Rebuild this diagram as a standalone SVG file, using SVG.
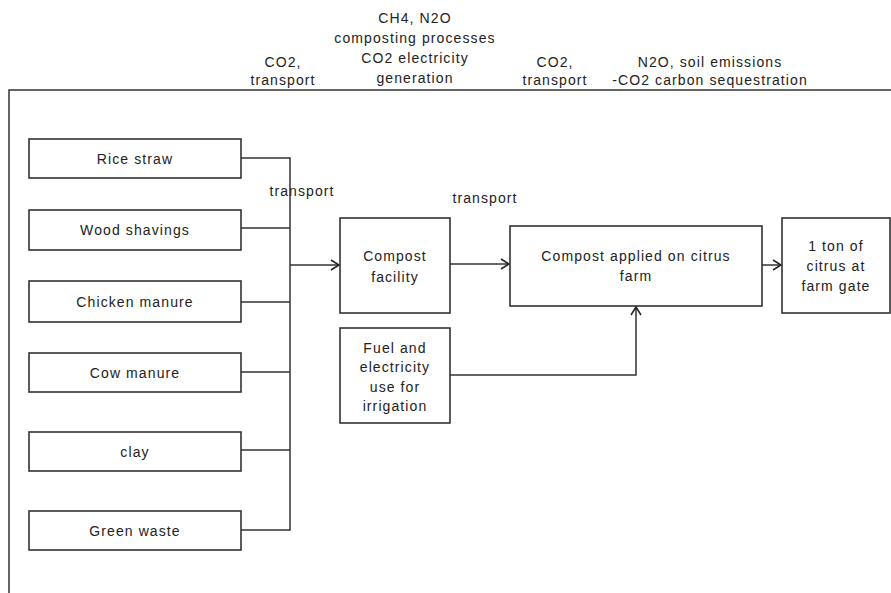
<svg xmlns="http://www.w3.org/2000/svg" width="891" height="593" viewBox="0 0 891 593">
<style>
text{font-family:"Liberation Sans",Arial,sans-serif;font-size:14px;fill:#222;text-anchor:middle;letter-spacing:1.1px}
.box{fill:#fff;stroke:#333;stroke-width:1.6}
.ln{fill:none;stroke:#333;stroke-width:1.5}
</style>
<defs>
<marker id="ah" markerWidth="12" markerHeight="12" refX="10" refY="6" orient="auto" markerUnits="userSpaceOnUse">
<polyline points="2,1 10,6 2,11" fill="none" stroke="#222" stroke-width="1.5"/>
</marker>
</defs>
<rect width="891" height="593" fill="#fff"/>
<g id="frame">
<polyline class="ln" points="9,593 9,90 891,90"/>
</g>
<g id="labels">
<text x="283" y="67">CO2,</text>
<text x="283" y="85">transport</text>
<text x="415" y="23">CH4, N2O</text>
<text x="415" y="43">composting processes</text>
<text x="415" y="63">CO2 electricity</text>
<text x="415" y="83">generation</text>
<text x="555" y="67">CO2,</text>
<text x="555" y="85">transport</text>
<text x="710" y="67">N2O, soil emissions</text>
<text x="710" y="85">-CO2 carbon sequestration</text>
<text x="302" y="196">transport</text>
<text x="485" y="203">transport</text>
</g>
<g id="connectors">
<polyline class="ln" points="241,158 290,158 290,530 241,530"/>
<line class="ln" x1="241" y1="228" x2="290" y2="228"/>
<line class="ln" x1="241" y1="302" x2="290" y2="302"/>
<line class="ln" x1="241" y1="372" x2="290" y2="372"/>
<line class="ln" x1="241" y1="450" x2="290" y2="450"/>
<line class="ln" x1="290" y1="265" x2="339" y2="265" marker-end="url(#ah)"/>
<line class="ln" x1="450" y1="264" x2="509" y2="264" marker-end="url(#ah)"/>
<polyline class="ln" points="450,375 636,375 636,307" marker-end="url(#ah)"/>
<line class="ln" x1="762" y1="265" x2="781" y2="265" marker-end="url(#ah)"/>
</g>
<g id="rice"><rect class="box" x="29" y="139" width="212" height="39"/><text x="135" y="164">Rice straw</text></g>
<g id="wood"><rect class="box" x="29" y="210" width="212" height="40"/><text x="135" y="235">Wood shavings</text></g>
<g id="chicken"><rect class="box" x="29" y="281" width="212" height="41"/><text x="135" y="307">Chicken manure</text></g>
<g id="cow"><rect class="box" x="29" y="353" width="212" height="39"/><text x="135" y="378">Cow manure</text></g>
<g id="clay"><rect class="box" x="29" y="432" width="212" height="39"/><text x="135" y="457">clay</text></g>
<g id="green"><rect class="box" x="29" y="511" width="212" height="39"/><text x="135" y="536">Green waste</text></g>
<g id="compost"><rect class="box" x="340" y="218" width="110" height="95"/><text x="395" y="261">Compost</text><text x="395" y="282">facility</text></g>
<g id="fuel"><rect class="box" x="340" y="328" width="110" height="95"/><text x="395" y="353">Fuel and</text><text x="395" y="372">electricity</text><text x="395" y="392">use for</text><text x="395" y="411">irrigation</text></g>
<g id="farm"><rect class="box" x="510" y="226" width="252" height="80"/><text x="636" y="261">Compost applied on citrus</text><text x="636" y="281">farm</text></g>
<g id="citrus"><rect class="box" x="782" y="218" width="108" height="95"/><text x="836" y="251">1 ton of</text><text x="836" y="271">citrus at</text><text x="836" y="291">farm gate</text></g>
</svg>
